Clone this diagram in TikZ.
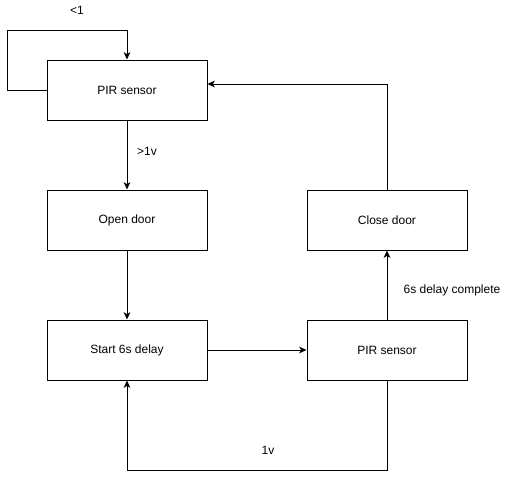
\documentclass[tikz,border=0pt]{standalone}
\usepackage{fontspec}
\setmainfont{Liberation Sans}
\usetikzlibrary{arrows.meta}
\begin{document}
\begin{tikzpicture}[x=0.75pt,y=-0.75pt,
  box/.style={draw, line width=0.75pt, minimum width=120pt, minimum height=45pt, inner sep=0pt, font=\fontsize{9}{11}\selectfont},
  lbl/.style={font=\fontsize{9}{11}\selectfont, inner sep=0pt},
  conn/.style={line width=0.75pt, -{Stealth[length=5.5pt,width=5pt,inset=1.5pt]}}]
\useasboundingbox (0,0) rectangle (508,480);
\node[box] (pir1) at (127,90) {PIR sensor};
\node[box] (open) at (127,220) {Open door};
\node[box] (start) at (127,350) {Start 6s delay};
\node[box] (pir2) at (387,350) {PIR sensor};
\node[box] (close) at (387,220) {Close door};
\coordinate (l1) at (7.5,90);
\coordinate (l2) at (7.5,30);
\coordinate (l3) at (127,30);
\coordinate (r1) at (387,84);
\coordinate (b1) at (387,470.5);
\coordinate (b2) at (127,470.5);
\draw[conn] (pir1.west) -- (l1) -- (l2) -- (l3) -- (pir1.north);
\draw[conn] (pir1) -- (open);
\draw[conn] (open) -- (start);
\draw[conn] (start) -- (pir2);
\draw[conn] (pir2) -- (close);
\draw[conn] (close.north) -- (r1) -- (pir1.east |- r1);
\draw[conn] (pir2.south) -- (b1) -- (b2) -- (start.south);
\node[lbl] (t1) at (77,10) {<1};
\node[lbl] (t2) at (147,151) {>1v};
\node[lbl] (t3) at (452,290) {6s delay complete};
\node[lbl] (t4) at (268,450) {1v};
\end{tikzpicture}
\end{document}
